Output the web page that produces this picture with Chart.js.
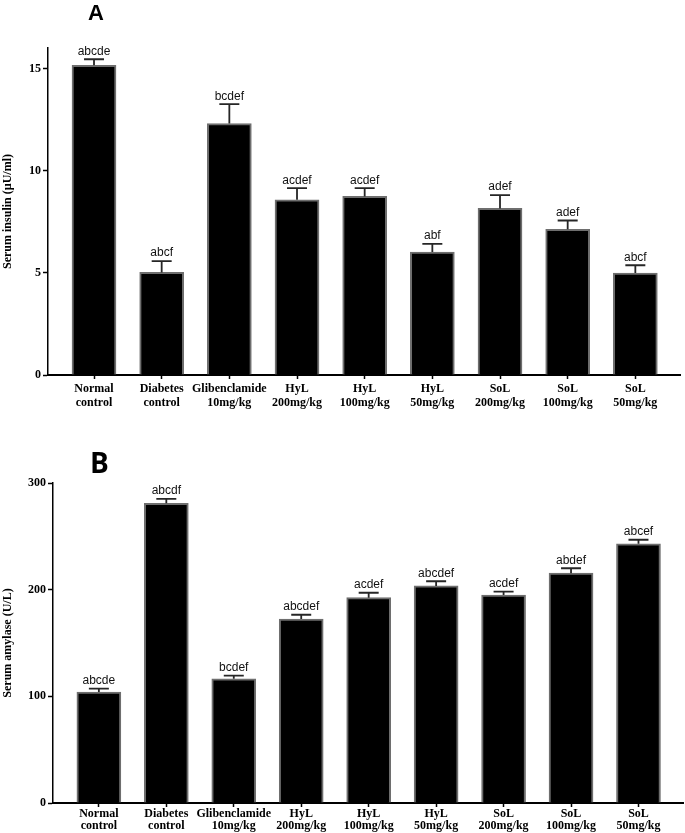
<!DOCTYPE html>
<html>
<head>
<meta charset="utf-8">
<script src="https://cdn.jsdelivr.net/npm/chart.js@4.4.0/dist/chart.umd.min.js"></script>
<style>
    body { margin: 0; background: #fff; }
    .panel { position: absolute; left: 0; }
    .letter { position: absolute; font-weight: bold; color: #000; }
</style>
</head>
<body>
<div class="panel" style="top:0"><canvas id="insulinCanvas" width="685" height="415"></canvas></div>
<div class="panel" style="top:415px"><canvas id="amylaseCanvas" width="685" height="418"></canvas></div>
<div class="letter" style="left:88px;top:0px;font-family:'Liberation Sans',Arial,sans-serif;font-size:22px;">A</div>
<div class="letter" style="left:90px;top:447px;font-family:'Open Sans',sans-serif;font-size:28px;line-height:30px;">B</div>

<script>
var groups = ['Normal control', 'Diabetes control', 'Glibenclamide 10mg/kg', 'HyL 200mg/kg', 'HyL 100mg/kg',
    'HyL 50mg/kg', 'SoL 200mg/kg', 'SoL 100mg/kg', 'SoL 50mg/kg'];

// serum insulin (uU/ml), mean and SEM
var insulin = [15.15, 5.02, 12.3, 8.57, 8.74, 6.02, 8.15, 7.13, 4.99];
var insulinErr = [0.3, 0.55, 0.95, 0.57, 0.4, 0.4, 0.65, 0.43, 0.38];
var insulinSig = ['abcde', 'abcf', 'bcdef', 'acdef', 'acdef', 'abf', 'adef', 'adef', 'abcf'];
var insulinTicks = [0, 5, 10, 15];

// serum amylase (U/L), mean and SEM
var amylase = [104, 281, 116.5, 172.5, 192.5, 203.5, 195, 215.5, 243];
var amylaseErr = [3.2, 4.2, 3, 4, 4.6, 4.4, 3.2, 4.6, 3.8];
var amylaseSig = ['abcde', 'abcdf', 'bcdef', 'abcdef', 'acdef', 'abcdef', 'acdef', 'abdef', 'abcef'];
var amylaseTicks = [0, 100, 200, 300];

var serif = "'Liberation Serif', 'Times New Roman', serif";
var sans = "'Liberation Sans', Arial, sans-serif";

// error bars + significance letters
var errorBars = {
    id: 'errorBars',
    afterDatasetsDraw: function (chart) {
        var o = chart.options.plugins.errorBars;
        var xs = chart.scales.x, ys = chart.scales.y;
        var ctx = chart.ctx;
        ctx.save();
        ctx.strokeStyle = '#262626';
        ctx.lineWidth = 1.8;
        ctx.fillStyle = '#111';
        ctx.font = '12px ' + sans;
        ctx.textAlign = 'center';
        ctx.textBaseline = 'bottom';
        o.values.forEach(function (v, i) {
            var x = xs.getPixelForValue(i);
            var y0 = ys.getPixelForValue(v);
            var y1 = ys.getPixelForValue(v + o.errors[i]);
            ctx.beginPath();
            ctx.moveTo(x, y0);
            ctx.lineTo(x, y1);
            ctx.moveTo(x - 10, y1);
            ctx.lineTo(x + 10, y1);
            ctx.stroke();
            ctx.fillText(o.letters[i], x, y1 - 2);
        });
        ctx.restore();
    }
};

var ConfigureChart = function (el, values, errors, letters, ticks, title, yWidth, xHeight, padTop, padRight, lineH, tickPad) {
    var points = [];
    values.forEach(function (v, i) {
        points.push({ x: i, y: v });
    });
    return new Chart(el, {
        type: 'bar',
        data: {
            datasets: [{
                data: points,
                backgroundColor: '#000',
                borderColor: '#6e6e6e',
                borderWidth: 2,
                barThickness: 44
            }]
        },
        options: {
            responsive: false,
            animation: false,
            layout: { padding: { top: padTop, right: padRight, left: 0, bottom: 0 } },
            plugins: {
                legend: { display: false },
                tooltip: { enabled: false },
                errorBars: { values: values, errors: errors, letters: letters }
            },
            scales: {
                x: {
                    type: 'linear',
                    min: -0.68,
                    max: 8.66,
                    offset: false,
                    afterBuildTicks: function (scale) {
                        scale.ticks = groups.map(function (g, i) { return { value: i }; });
                    },
                    afterFit: function (scale) { scale.height = xHeight; },
                    border: { color: '#000', width: 2 },
                    grid: { offset: false, drawOnChartArea: false, drawTicks: true, tickLength: 4, tickColor: '#000', tickWidth: 1.5 },
                    ticks: {
                        autoSkip: false,
                        maxRotation: 0,
                        padding: tickPad,
                        color: '#000',
                        font: { family: serif, size: 12, weight: 'bold', lineHeight: lineH },
                        callback: function (v) { return groups[v] ? groups[v].split(' ') : ''; }
                    }
                },
                y: {
                    min: 0,
                    max: ticks[ticks.length - 1] === 15 ? 16 : ticks[ticks.length - 1],
                    afterBuildTicks: function (scale) {
                        scale.ticks = ticks.map(function (t) { return { value: t }; });
                    },
                    afterFit: function (scale) { scale.width = yWidth; },
                    border: { color: '#000', width: 1.5 },
                    grid: { drawOnChartArea: false, drawTicks: true, tickLength: 5, tickColor: '#000', tickWidth: 1.5 },
                    ticks: {
                        padding: 2,
                        color: '#000',
                        font: { family: serif, size: 12, weight: 'bold' }
                    },
                    title: {
                        display: true,
                        text: title,
                        color: '#000',
                        padding: { top: 1, bottom: 0 },
                        font: { family: serif, size: 12, weight: 'bold' }
                    }
                }
            }
        },
        plugins: [errorBars]
    });
};

var ctx = document.getElementById('insulinCanvas').getContext('2d');
ConfigureChart(ctx, insulin, insulinErr, insulinSig, insulinTicks, 'Serum insulin (\u00b5U/ml)', 48, 40, 48, 5, 1.17, 3);

var ctx2 = document.getElementById('amylaseCanvas').getContext('2d');
ConfigureChart(ctx2, amylase, amylaseErr, amylaseSig, amylaseTicks, 'Serum amylase (U/L)', 53, 30, 68, 2, 1.0, 1);
</script>
</body>
</html>
